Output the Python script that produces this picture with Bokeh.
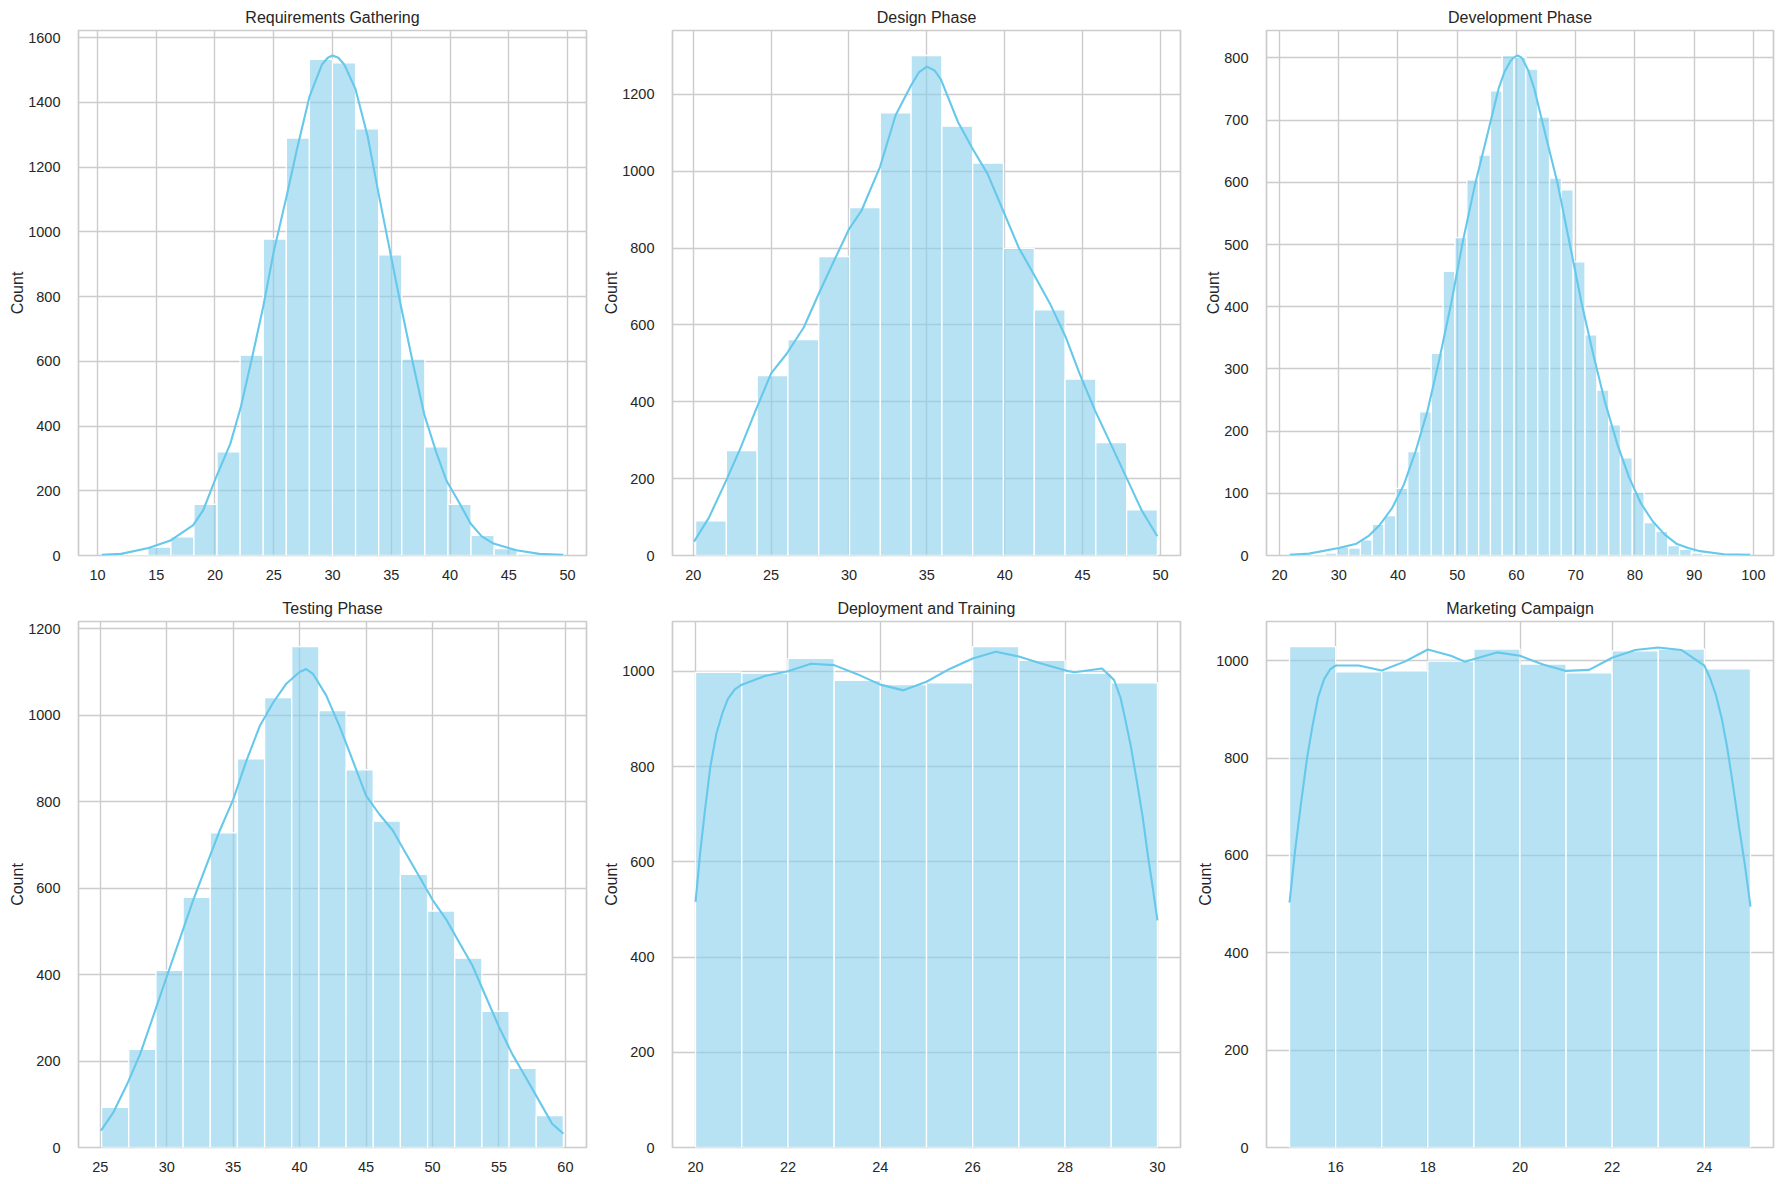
from bokeh.plotting import figure
from bokeh.layouts import column, row
from bokeh.models import Range1d, SingleIntervalTicker
from bokeh.embed import file_html
from bokeh.resources import INLINE

# ---------------- data ----------------
titles = ["Requirements Gathering", "Design Phase", "Development Phase",
          "Testing Phase", "Deployment and Training", "Marketing Campaign"]

# histogram: first bin edge, bin width, counts
req_lo, req_w = 10.35, 1.965
req_counts = [6, 3, 26, 58, 158, 320, 619, 978, 1290, 1533, 1522, 1318, 929, 607, 336, 158, 62, 21, 5, 3]
req_kde_x = [10.35, 12, 14.35, 16.2, 18.15, 19.0, 20.1, 21.3, 22.2, 23.2, 24.1, 25.0, 26.1, 27.0, 28.05, 29.1,
             29.6, 30.0, 30.5, 31.0, 31.95, 33.0, 33.9, 34.9, 35.84, 36.9, 37.8, 38.8, 39.7, 40.8, 41.75, 42.7,
             43.7, 45.65, 47.6, 49.65]
req_kde_y = [2, 5, 23, 46, 94, 140, 242, 345, 459, 619, 768, 939, 1111, 1259, 1419, 1517, 1538, 1545, 1538, 1517,
             1442, 1294, 1122, 939, 768, 585, 437, 322, 231, 162, 99, 59, 37, 16, 5, 2]

des_lo, des_w = 20.15, 1.977
des_counts = [90, 273, 468, 562, 778, 905, 1152, 1301, 1117, 1021, 799, 639, 459, 294, 119]
des_kde_x = [20.05, 21, 22, 23, 24, 25, 26, 27.1, 28, 29.1, 30, 30.8, 32, 33, 34, 34.5, 35, 35.5, 35.9, 37, 37.9,
             38.9, 39.9, 40.9, 41.9, 42.9, 43.9, 44.8, 45.8, 46.8, 47.8, 48.8, 49.8]
des_kde_y = [36, 98, 185, 276, 377, 474, 525, 594, 676, 772, 849, 897, 1012, 1146, 1224, 1258, 1272, 1262, 1239,
             1128, 1061, 993, 897, 801, 729, 656, 570, 474, 377, 291, 204, 117, 50]

dev_lo, dev_w = 21.7, 1.995
dev_counts = [1, 1, 2, 4, 14, 12, 25, 50, 64, 108, 167, 231, 325, 457, 511, 604, 644, 747, 804, 801, 782, 705, 607,
              588, 472, 355, 266, 210, 157, 102, 53, 39, 16, 10, 4, 2, 1, 1, 1]
dev_kde_x = [21.7, 25, 30, 33, 35, 37, 39, 41, 43, 45, 47, 49, 51, 53, 55, 57, 58, 59, 59.6, 60.2, 60.8, 61, 62,
             63, 65, 67, 69, 71, 73, 75, 77, 79, 81, 83, 85, 87, 89, 91, 95, 99.5]
dev_kde_y = [1, 3, 12, 19, 31, 50, 76, 114, 168, 233, 316, 406, 507, 596, 673, 751, 778, 795, 801, 804, 801, 799,
             780, 751, 673, 596, 501, 406, 322, 245, 180, 126, 84, 55, 34, 19, 12, 7, 2, 1]

tst_lo, tst_w = 25.1, 2.044
tst_counts = [93, 227, 410, 579, 728, 899, 1041, 1159, 1011, 874, 755, 632, 547, 438, 315, 183, 74]
tst_kde_x = [25.05, 26, 27, 28, 29, 30, 31, 32, 33, 34, 35, 36, 37, 38, 39, 40, 40.5, 41, 42, 43, 44, 45, 46, 47,
             48, 49, 50, 51, 52, 53, 54, 55, 56, 57, 58, 59, 59.85]
tst_kde_y = [39, 82, 145, 216, 305, 395, 484, 573, 654, 734, 805, 895, 975, 1029, 1073, 1100, 1107, 1096, 1046, 975,
             895, 814, 771, 734, 680, 627, 573, 529, 475, 421, 350, 279, 216, 163, 109, 55, 32]

dep_lo, dep_w = 20.0, 1.0
dep_counts = [998, 996, 1027, 981, 972, 976, 1052, 1023, 996, 976]
dep_kde_x = [20.0, 20.1, 20.2, 20.32, 20.45, 20.58, 20.7, 20.85, 21, 21.5, 22, 22.5, 23, 23.5, 24, 24.5, 25, 25.5,
             26, 26.5, 27, 27.5, 28, 28.2, 28.8, 29.06, 29.2, 29.3, 29.42, 29.55, 29.68, 29.8, 29.9, 30.0]
dep_kde_y = [516, 620, 706, 800, 869, 912, 942, 962, 972, 990, 1000, 1016, 1013, 994, 972, 960, 978, 1005, 1027,
             1041, 1031, 1016, 1002, 998, 1006, 982, 945, 901, 845, 772, 695, 609, 545, 477]

mkt_lo, mkt_w = 15.0, 1.0
mkt_counts = [1029, 977, 979, 999, 1024, 993, 975, 1020, 1024, 983]
mkt_kde_x = [15.0, 15.12, 15.25, 15.38, 15.5, 15.62, 15.75, 15.88, 16, 16.5, 17, 17.5, 18, 18.5, 18.8, 19.5, 20,
             20.5, 21, 21.5, 22, 22.5, 23, 23.5, 24, 24.12, 24.25, 24.38, 24.5, 24.62, 24.75, 24.88, 25.0]
mkt_kde_y = [503, 610, 708, 800, 867, 925, 962, 982, 990, 990, 980, 998, 1023, 1010, 998, 1017, 1010, 992, 979,
             981, 1006, 1022, 1027, 1022, 990, 965, 930, 880, 819, 745, 660, 580, 495]

x_tick_steps = [5, 5, 10, 5, 2, 2]
y_tick_steps = [200, 200, 100, 200, 200, 200]

panels = [
    (req_lo, req_w, req_counts, req_kde_x, req_kde_y),
    (des_lo, des_w, des_counts, des_kde_x, des_kde_y),
    (dev_lo, dev_w, dev_counts, dev_kde_x, dev_kde_y),
    (tst_lo, tst_w, tst_counts, tst_kde_x, tst_kde_y),
    (dep_lo, dep_w, dep_counts, dep_kde_x, dep_kde_y),
    (mkt_lo, mkt_w, mkt_counts, mkt_kde_x, mkt_kde_y),
]

# ---------------- styling / layout ----------------
FONT = "Liberation Sans"
TXT = "#262626"
GRID = "#cccccc"
BAR = "#87ceeb"
LINE = "#66c8ea"

col_widths = [590, 594, 600]
col_left = [78, 82, 82]
col_right = [4, 4, 11]
row_heights = [588, 596]
row_top = [30, 33]
row_bottom = [33, 37]


def make(i):
    lo, w, counts, kx, ky = panels[i]
    r, c = divmod(i, 3)
    n = len(counts)
    left = [lo + k * w for k in range(n)]
    right = [lo + (k + 1) * w for k in range(n)]
    xmin, xmax = lo, lo + n * w
    span = xmax - xmin
    ytop = 1.05 * max(max(counts), max(ky))

    p = figure(width=col_widths[c], height=row_heights[r],
               x_range=Range1d(xmin - 0.05 * span, xmax + 0.05 * span),
               y_range=Range1d(0, ytop),
               output_backend="svg", toolbar_location=None,
               min_border_left=col_left[c], min_border_right=col_right[c],
               min_border_top=row_top[r], min_border_bottom=row_bottom[r])
    p.background_fill_color = "white"
    p.border_fill_color = "white"
    p.outline_line_color = GRID
    p.outline_line_width = 1.7

    p.title.text = titles[i]
    p.title.align = "center"
    p.title.text_font = FONT
    p.title.text_font_size = "16px"
    p.title.text_font_style = "normal"
    p.title.text_color = TXT
    p.title.standoff = 10

    p.quad(left=left, right=right, bottom=0, top=counts,
           fill_color=BAR, fill_alpha=0.6, line_color="white", line_width=1.3)
    p.line(kx, ky, line_color=LINE, line_width=2.1)

    p.xaxis.ticker = SingleIntervalTicker(interval=x_tick_steps[i])
    p.yaxis.ticker = SingleIntervalTicker(interval=y_tick_steps[i])
    p.yaxis.axis_label = "Count"
    for ax in (p.xaxis[0], p.yaxis[0]):
        ax.axis_line_color = None
        ax.major_tick_line_color = None
        ax.minor_tick_line_color = None
        ax.major_tick_out = 0
        ax.major_label_text_font = FONT
        ax.major_label_text_font_size = "14.5px"
        ax.major_label_text_color = TXT
        ax.axis_label_text_font = FONT
        ax.axis_label_text_font_size = "16px"
        ax.axis_label_text_font_style = "normal"
        ax.axis_label_text_color = TXT
    p.xaxis.major_label_standoff = 10
    p.yaxis.major_label_standoff = 14
    p.yaxis.axis_label_standoff = -1

    p.xgrid.grid_line_color = GRID
    p.ygrid.grid_line_color = GRID
    p.xgrid.grid_line_width = 1.4
    p.ygrid.grid_line_width = 1.4
    return p


figs = [make(i) for i in range(6)]
layout = column(row(*figs[:3], spacing=0), row(*figs[3:], spacing=0), spacing=0)

open("out.html", "w").write(file_html(layout, INLINE))
